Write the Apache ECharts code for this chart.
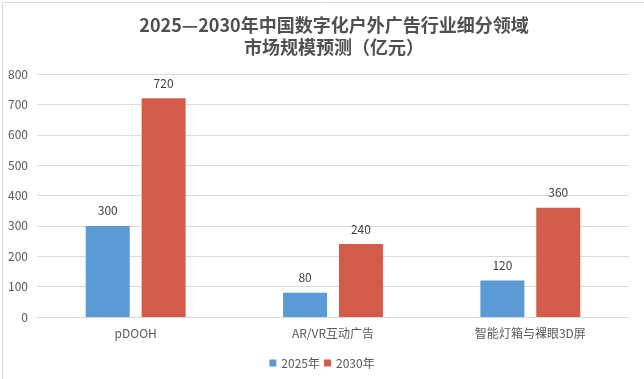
<!DOCTYPE html>
<html>
<head>
<meta charset="utf-8">
<script src="https://cdn.jsdelivr.net/npm/echarts@6/dist/echarts.min.js"></script>
<style>html,body{margin:0;padding:0;background:#fff}#c{width:644px;height:379px}</style>
</head>
<body>
<div id="c"></div>
<script>
const categories = ['pDOOH', 'AR/VR互动广告', '智能灯箱与裸眼3D屏'];
const seriesNames = ['2025年', '2030年'];
const values2025 = [300, 80, 120];
const values2030 = [720, 240, 360];
const yTicks = [0, 100, 200, 300, 400, 500, 600, 700, 800];
const titleText = '2025—2030年中国数字化户外广告行业细分领域\n市场规模预测（亿元）';

const font = "'Noto Sans CJK SC','Noto Sans',sans-serif";
const chart = echarts.init(document.getElementById('c'), null, {renderer: 'canvas'});
chart.setOption({
  backgroundColor: '#fff',
  animation: false,
  title: {
    text: titleText,
    left: 329, top: 9, textAlign: 'center',
    textStyle: {fontSize: 18, fontWeight: 'bold', color: '#505050', lineHeight: 22, fontFamily: font}
  },
  legend: {
    data: seriesNames, left: 'center', top: 352, itemWidth: 7, itemHeight: 7, itemGap: 4,
    icon: 'rect',
    textStyle: {fontSize: 12, color: '#595959', fontFamily: font, padding: [0, 0, 0, 0]}
  },
  grid: {left: 37, right: 15, top: 74, bottom: 62, containLabel: false},
  xAxis: {
    type: 'category', data: categories,
    axisLine: {lineStyle: {color: '#D9D9D9'}}, axisTick: {show: false},
    axisLabel: {margin: 10, fontSize: 12, color: '#595959', fontFamily: font}
  },
  yAxis: {
    type: 'value', min: yTicks[0], max: yTicks[yTicks.length - 1], interval: yTicks[1] - yTicks[0],
    axisLine: {show: false}, axisTick: {show: false},
    splitLine: {lineStyle: {color: '#D9D9D9'}},
    axisLabel: {margin: 9, fontSize: 12, color: '#595959', fontFamily: font}
  },
  series: [
    {
      name: seriesNames[0], type: 'bar', data: values2025, barWidth: 44, barGap: '27%',
      itemStyle: {color: '#5B9BD5'},
      label: {show: true, position: 'top', distance: 9, fontSize: 12, color: '#404040', fontFamily: font}
    },
    {
      name: seriesNames[1], type: 'bar', data: values2030, barWidth: 44,
      itemStyle: {color: '#D35B4A'},
      label: {show: true, position: 'top', distance: 9, fontSize: 12, color: '#404040', fontFamily: font}
    }
  ],
  graphic: [{
    type: 'rect', left: 0, top: 0, silent: true,
    shape: {x: 0.5, y: 0.5, width: 643, height: 378},
    style: {fill: null, stroke: '#D9D9D9', lineWidth: 1}
  }]
});
</script>
</body>
</html>
